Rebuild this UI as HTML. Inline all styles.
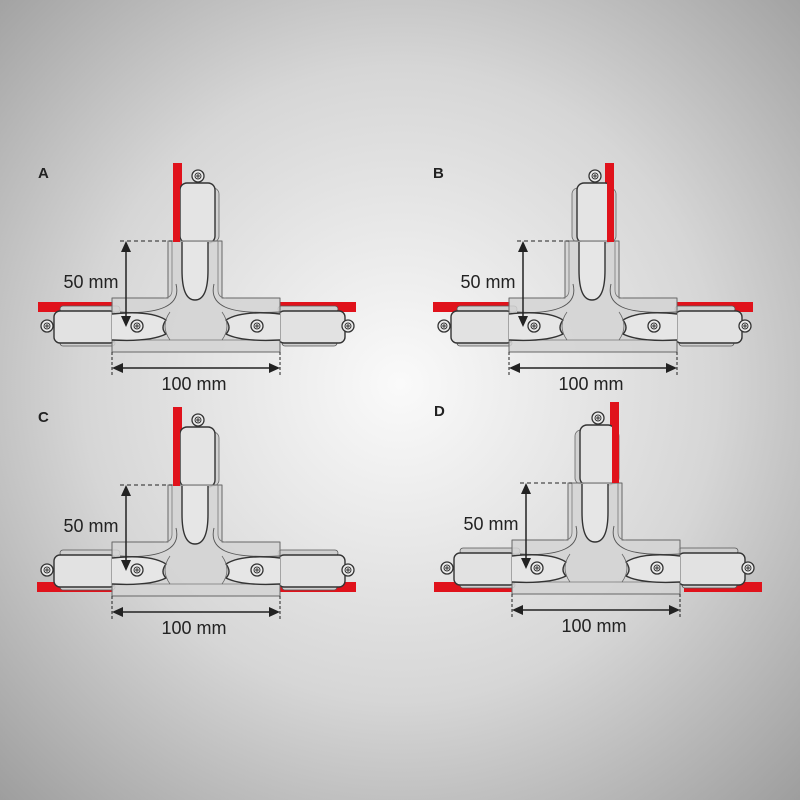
<!DOCTYPE html>
<html><head><meta charset="utf-8"><style>
html,body{margin:0;padding:0;width:800px;height:800px;overflow:hidden}
svg{display:block}
text{font-family:"Liberation Sans",sans-serif;fill:#222}
</style></head><body>
<svg width="800" height="800" viewBox="0 0 800 800" xmlns="http://www.w3.org/2000/svg">
<defs>
<radialGradient id="bg" cx="50%" cy="48%" r="72%">
<stop offset="0" stop-color="#fafafa"/><stop offset="0.55" stop-color="#d6d6d6"/><stop offset="1" stop-color="#9e9e9e"/>
</radialGradient>
<g id="scr"><circle r="6" fill="#ececec" stroke="#333" stroke-width="1.3"/><circle r="3" fill="none" stroke="#333" stroke-width="1"/><path d="M-2 0H2M0-2V2" stroke="#333" stroke-width="1"/></g>
<g id="T" stroke-linejoin="round">
 <rect x="60" y="306" width="60" height="6" rx="3" fill="#cfcfcf" stroke="#555" stroke-width="0.8"/>
 <rect x="60" y="340" width="55" height="6" rx="3" fill="#cfcfcf" stroke="#555" stroke-width="0.8"/>
 <rect x="278" y="306" width="60" height="6" rx="3" fill="#cfcfcf" stroke="#555" stroke-width="0.8"/>
 <rect x="282" y="340" width="55" height="6" rx="3" fill="#cfcfcf" stroke="#555" stroke-width="0.8"/>
 <rect x="54" y="311" width="62" height="32" rx="6" fill="#e2e2e2" stroke="#333" stroke-width="1.4"/>
 <rect x="278" y="311" width="67" height="32" rx="6" fill="#e2e2e2" stroke="#333" stroke-width="1.4"/>
 <use href="#scr" x="47" y="326"/><use href="#scr" x="348" y="326"/>
 <rect x="175" y="188" width="44" height="54" rx="6" fill="#d2d2d2" stroke="#666" stroke-width="0.8"/>
 <rect x="180" y="183" width="35" height="60" rx="7" fill="#e4e4e4" stroke="#333" stroke-width="1.4"/>
 <use href="#scr" x="198" y="176"/>
 <path d="M168 241H222V298H280V352H112V298H168Z" fill="#d4d4d4" fill-opacity="0.85" stroke="#666" stroke-width="1"/>
 <path d="M172 241V290Q172 298 164 298M218 241V290Q218 298 226 298M112 340H280" fill="none" stroke="#777" stroke-width="0.8"/>
 <path d="M182 242V270Q182 300 195 300Q208 300 208 270V242" fill="#e6e6e6" stroke="#333" stroke-width="1.4"/>
 <path d="M176 284Q180 300 165 307Q150 314 120 312M214 284Q210 300 225 307Q240 314 280 312" fill="none" stroke="#555" stroke-width="0.9"/>
 <path d="M112 314Q150 310 166 320Q160 328 166 334Q150 342 112 340" fill="#e6e6e6" stroke="#333" stroke-width="1.4"/>
 <path d="M280 314Q242 310 226 320Q232 328 226 334Q242 342 280 340" fill="#e6e6e6" stroke="#333" stroke-width="1.4"/>
 <path d="M170 312Q160 326 170 340M222 312Q232 326 222 340" fill="none" stroke="#666" stroke-width="0.8"/>
 <use href="#scr" x="137" y="326"/><use href="#scr" x="257" y="326"/>
 <path d="M120 241H172" stroke="#222" stroke-width="1" stroke-dasharray="4 3"/>
 <path d="M126 252V316" stroke="#222" stroke-width="1.5"/>
 <path d="M126 241l-5 11h10zM126 327l-5-11h10z" fill="#222"/>
 <path d="M112 352V376M280 352V376" stroke="#222" stroke-width="1" stroke-dasharray="3 2"/>
 <path d="M122 368H270" stroke="#222" stroke-width="1.5"/>
 <path d="M112 368l11-5v10zM280 368l-11-5v10z" fill="#222"/>
 <text x="91" y="288" font-size="18" text-anchor="middle">50 mm</text>
 <text x="194" y="390" font-size="18" text-anchor="middle">100 mm</text>
</g>
</defs>
<rect width="800" height="800" fill="url(#bg)"/>
<rect x="173" y="163" width="9" height="79" fill="#e0121b"/>
<rect x="38" y="302" width="75" height="10" fill="#e0121b"/>
<rect x="280" y="302" width="76" height="10" fill="#e0121b"/>
<rect x="605" y="163" width="9" height="79" fill="#e0121b"/>
<rect x="433" y="302" width="77" height="10" fill="#e0121b"/>
<rect x="677" y="302" width="76" height="10" fill="#e0121b"/>
<rect x="173" y="407" width="9" height="79" fill="#e0121b"/>
<rect x="37" y="582" width="76" height="10" fill="#e0121b"/>
<rect x="280" y="582" width="76" height="10" fill="#e0121b"/>
<rect x="610" y="402" width="9" height="81" fill="#e0121b"/>
<rect x="434" y="582" width="78" height="10" fill="#e0121b"/>
<rect x="684" y="582" width="78" height="10" fill="#e0121b"/>
<use href="#T"/>
<use href="#T" x="397" y="0"/>
<use href="#T" x="0" y="244"/>
<use href="#T" x="400" y="242"/>
<rect x="173" y="163" width="7" height="79" fill="#e0121b"/>
<rect x="607" y="163" width="7" height="79" fill="#e0121b"/>
<rect x="173" y="407" width="7" height="79" fill="#e0121b"/>
<rect x="612" y="402" width="7" height="81" fill="#e0121b"/>
<text x="38" y="178" font-size="15" font-weight="bold">A</text>
<text x="433" y="178" font-size="15" font-weight="bold">B</text>
<text x="38" y="422" font-size="15" font-weight="bold">C</text>
<text x="434" y="416" font-size="15" font-weight="bold">D</text>
</svg>
</body></html>
